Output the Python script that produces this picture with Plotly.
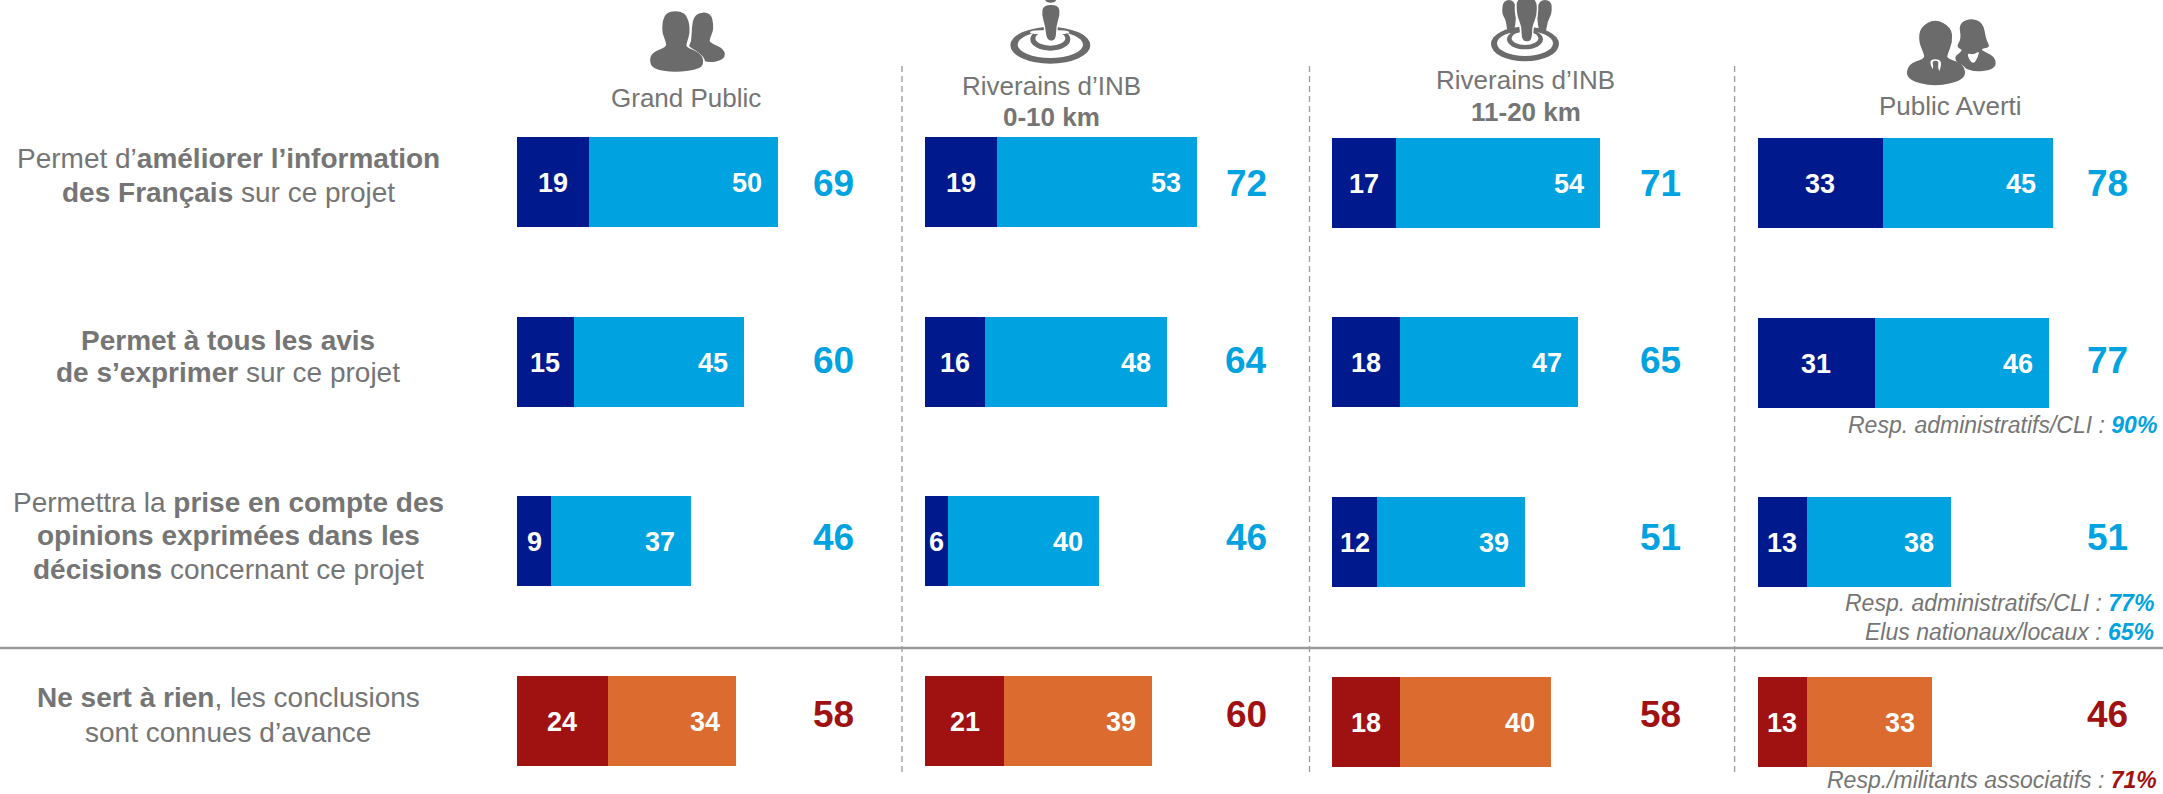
import plotly.graph_objects as go

W, H = 2163, 794
FONT = "Liberation Sans"
GREY = "#757575"
NAVY, BLUE, RED, ORANGE = "#001A8E", "#00A3E0", "#A01212", "#DC6B2F"

ROWS = ["Améliorer l'information", "Tous les avis", "Prise en compte", "Ne sert à rien"]
PANELS = ["Grand Public", "Riverains 0-10 km", "Riverains 11-20 km", "Public Averti"]
DARK = [[19, 15, 9, 24], [19, 16, 6, 21], [17, 18, 12, 18], [33, 31, 13, 13]]
LIGHT = [[50, 45, 37, 34], [53, 48, 40, 39], [54, 47, 39, 40], [45, 46, 38, 33]]
TOTALS = [[69, 60, 46, 58], [72, 64, 46, 60], [71, 65, 51, 58], [78, 77, 51, 46]]
ROW_LABELS = [
    ("Permet d’<b>améliorer l’information</b>", 158),
    ("<b>des Français</b> sur ce projet", 193),
    ("<b>Permet à tous les avis</b>", 340),
    ("<b>de s’exprimer</b> sur ce projet", 373),
    ("Permettra la <b>prise en compte des</b>", 502),
    ("<b>opinions exprimées dans les</b>", 535),
    ("<b>décisions</b> concernant ce projet", 569),
    ("<b>Ne sert à rien</b>, les conclusions", 697),
    ("sont connues d’avance", 732),
]
HEADERS = [
    ("Grand Public", 686, 98),
    ("Riverains d’INB", 1051, 86),
    ("<b>0-10 km</b>", 1051, 117),
    ("Riverains d’INB", 1526, 80),
    ("<b>11-20 km</b>", 1526, 112),
    ("Public Averti", 1950, 106),
]
NOTES = [
    ("Resp. administratifs/CLI : ", "90%", BLUE, 2159, 425.5),
    ("Resp. administratifs/CLI : ", "77%", BLUE, 2156, 603),
    ("Elus nationaux/locaux : ", "65%", BLUE, 2156, 631.5),
    ("Resp./militants associatifs : ", "71%", RED, 2159, 780),
]

X0 = [517, 925, 1332, 1757.6]
UNIT = 3.78
CENTER0 = [181.7, 182, 182.5, 183]
SPACING = [179.8, 179.7, 179.9, 179.7]
TOTAL_X = [833, 1246, 1660, 2107]
TOTAL_Y = [183, 360.5, 537.5, 714.5]
SEPARATORS = [902, 1309.5, 1734.6]

fig = go.Figure()
ann = []
layout = {}
for p in range(4):
    sfx = "" if p == 0 else str(p + 1)
    xa, ya = "x" + sfx, "y" + sfx
    fig.add_bar(
        y=ROWS, x=DARK[p], orientation="h", xaxis=xa, yaxis=ya, width=90 / SPACING[p],
        marker=dict(color=[NAVY, NAVY, NAVY, RED], line_width=0), showlegend=False,
        name="Dark " + PANELS[p],
    )
    fig.add_bar(
        y=ROWS, x=LIGHT[p], orientation="h", xaxis=xa, yaxis=ya, width=90 / SPACING[p],
        marker=dict(color=[BLUE, BLUE, BLUE, ORANGE], line_width=0), showlegend=False,
        name="Light " + PANELS[p],
    )
    layout["xaxis" + sfx] = dict(
        domain=[X0[p] / W, (X0[p] + 100 * UNIT) / W], range=[0, 100], visible=False,
        anchor=ya, fixedrange=True,
    )
    layout["yaxis" + sfx] = dict(
        domain=[0, 1], type="category", categoryarray=ROWS, categoryorder="array",
        range=[(H - CENTER0[p]) / SPACING[p], -CENTER0[p] / SPACING[p]], visible=False,
        anchor=xa, fixedrange=True,
    )
    for r in range(4):
        ann.append(dict(
            x=DARK[p][r] / 2, y=r, xref=xa, yref=ya, text=f"<b>{DARK[p][r]}</b>", showarrow=False,
            xanchor="center", yanchor="middle", yshift=-1, font=dict(size=27, color="white", family=FONT),
        ))
        ann.append(dict(
            x=DARK[p][r] + LIGHT[p][r], y=r, xref=xa, yref=ya, text=f"<b>{LIGHT[p][r]}</b>",
            showarrow=False, xanchor="right", yanchor="middle", xshift=-14, yshift=-1,
            font=dict(size=27, color="white", family=FONT),
        ))
        ann.append(dict(
            x=TOTAL_X[p] / W, y=1 - TOTAL_Y[r] / H, xref="paper", yref="paper",
            text=f"<b>{TOTALS[p][r]}</b>", showarrow=False, xanchor="center", yanchor="middle",
            font=dict(size=37, color=RED if r == 3 else BLUE, family=FONT),
        ))

for label, y in ROW_LABELS:
    ann.append(dict(x=228 / W, y=1 - y / H, xref="paper", yref="paper", text=label, showarrow=False,
                    xanchor="center", yanchor="middle", align="center",
                    font=dict(size=28, color=GREY, family=FONT)))
for text, x, y in HEADERS:
    ann.append(dict(x=x / W, y=1 - y / H, xref="paper", yref="paper", text=text, showarrow=False,
                    xanchor="center", yanchor="middle", align="center",
                    font=dict(size=26, color=GREY, family=FONT)))
for text, pct, col, x, y in NOTES:
    ann.append(dict(x=x / W, y=1 - y / H, xref="paper", yref="paper", showarrow=False,
                    text=f"<i>{text}<b><span style='color:{col}'>{pct}</span></b></i>",
                    xanchor="right", yanchor="middle", align="right",
                    font=dict(size=23, color=GREY, family=FONT)))

# ---- decorative shapes, in pixel coordinates converted to paper fractions
shapes = []
LINE = "#9A9A9A"
ICON = "#6B6B6B"


def px(x):
    return x / W


def py(y):
    return 1 - y / H


for sx in SEPARATORS:
    shapes.append(dict(type="line", xref="paper", yref="paper", x0=px(sx), x1=px(sx), y0=py(66), y1=py(776),
                       line=dict(color=LINE, width=1.3, dash="6px,4px"), layer="below"))
shapes.append(dict(type="line", xref="paper", yref="paper", x0=0, x1=1, y0=py(648), y1=py(648),
                   line=dict(color=LINE, width=2.5), layer="below"))


def blob(points, ox, oy, color=ICON, scale=1 / 3):
    """Closed smooth outline through midpoints; points in zoom pixels."""
    P = [(min(max(ox + a * scale, 0), W), oy + b * scale) for a, b in points]
    n = len(P)
    mid = lambda u, v: ((u[0] + v[0]) / 2, (u[1] + v[1]) / 2)
    s = mid(P[-1], P[0])
    d = f"M{px(s[0])},{py(s[1])}"
    for i in range(n):
        m = mid(P[i], P[(i + 1) % n])
        d += f" Q{px(P[i][0])},{py(P[i][1])} {px(m[0])},{py(m[1])}"
    d += " Z"
    shapes.append(dict(type="path", path=d, xref="paper", yref="paper", fillcolor=color, line_width=0))


def ell(cx, cy, rx, ry, ox, oy, color, scale=1 / 3):
    shapes.append(dict(type="circle", xref="paper", yref="paper", fillcolor=color, line_width=0,
                       x0=px(ox + (cx - rx) * scale), x1=px(ox + (cx + rx) * scale),
                       y0=py(oy + (cy - ry) * scale), y1=py(oy + (cy + ry) * scale)))


# Icon 1: two people
O = (630, 0)
back = [(193, 40), (243, 36), (252, 85), (240, 115), (238, 128), (284, 146), (285, 180), (225, 190), (170, 150), (185, 125), (184, 90)]
blob(back, *O)
front = [(104, 34), (168, 34), (182, 90), (170, 130), (168, 141), (208, 157), (222, 180), (214, 207), (135, 218), (66, 207), (58, 175), (72, 154), (110, 141), (107, 125), (94, 90)]
blob([(a + 6 * (a > 140) - 6 * (a < 140), b + (5 if b > 150 else -3)) for a, b in front], *O, color="white")
blob(front, *O)

# Icon 2: person on target
O = (1000, 0)
ell(151, 136, 120, 55, *O, ICON)
ell(151, 134, 98, 40, *O, "white")
ell(151, 118, 60, 34, *O, ICON)
ell(151, 115, 45, 22, *O, "white")
blob([(90, 90), (208, 90), (208, 103), (90, 103)], *O, color="white")
blob([(128, 12), (178, 12), (182, 50), (172, 80), (172, 125), (135, 125), (132, 80), (122, 50)], *O, color="white")
blob([(130, 15), (176, 15), (180, 45), (168, 78), (168, 122), (140, 122), (136, 78), (125, 45)], *O)
ell(152, 0, 16, 8, *O, ICON)

# Icon 3: group on target
O = (1470, 0)
ell(165, 132, 102, 52, *O, ICON)
ell(165, 130, 84, 38, *O, "white")
ell(165, 118, 54, 30, *O, ICON)
ell(165, 115, 40, 20, *O, "white")
blob([(100, 0), (134, 0), (140, 45), (132, 100), (112, 100), (108, 60), (95, 40)], *O)
blob([(206, 0), (244, 0), (246, 40), (232, 65), (228, 100), (208, 100), (200, 50)], *O)
blob([(134, -10), (205, -10), (205, 50), (190, 80), (190, 130), (150, 130), (150, 80), (134, 50)], *O, color="white")
blob([(140, -10), (198, -10), (202, 45), (186, 78), (186, 124), (155, 124), (155, 78), (140, 45)], *O)

# Icon 4: business man and woman
O = (1890, 0)
woman = [(240, 54), (280, 68), (288, 120), (302, 142), (265, 148), (316, 168), (318, 208), (240, 218), (185, 175), (222, 150), (198, 142), (214, 115), (206, 72)]
blob(woman, *O)
blob([(228, 158), (250, 165), (272, 150), (250, 200)], *O, color="white")
man = [(135, 56), (184, 82), (188, 125), (172, 165), (172, 176), (222, 192), (228, 238), (135, 262), (48, 238), (54, 192), (104, 176), (101, 160), (86, 125), (90, 82)]
blob([(a + 7 * (a > 135) - 7 * (a < 135), b + 5 * (b > 170)) for a, b in man], *O, color="white")
blob(man, *O)
blob([(112, 178), (160, 178), (142, 232)], *O, color="white")
blob([(126, 182), (147, 182), (143, 200), (150, 222), (136, 236), (124, 222), (131, 200)], *O)

fig.update_layout(
    width=W, height=H,
    margin=dict(l=0, r=0, t=0, b=0), barmode="stack", bargap=0,
    paper_bgcolor="white", plot_bgcolor="white", showlegend=False,
    annotations=ann, shapes=shapes, font=dict(family=FONT), **layout,
)
fig.write_html("out.html", config=dict(displayModeBar=False), include_plotlyjs=True,
               post_script="document.body.style.margin='0';document.body.style.overflow='hidden';")
